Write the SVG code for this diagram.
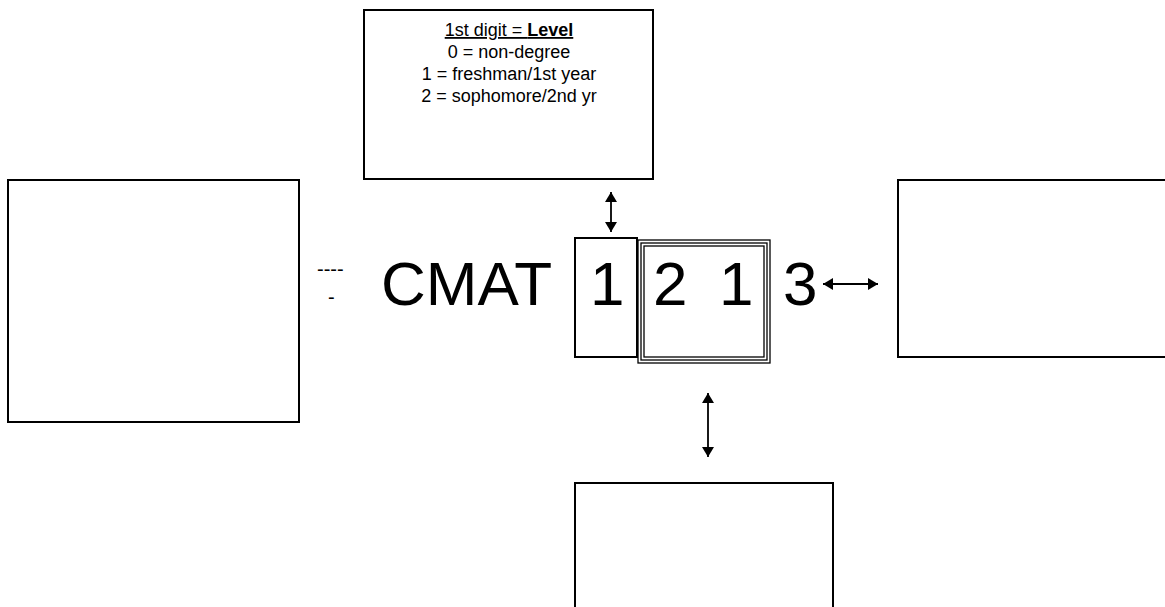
<svg xmlns="http://www.w3.org/2000/svg" width="1165" height="607" viewBox="0 0 1165 607">
  <style>
    .box { fill: #fff; stroke: #000; stroke-width: 2; }
    .tri { fill: none; stroke: #000; stroke-width: 1.3; }
    .t { font-family: "Liberation Sans", Arial, sans-serif; fill: #000; }
    .lbl { font-size: 18px; text-anchor: middle; }
    .big { font-size: 62px; }
    .conn { stroke: #000; stroke-width: 1.8; fill: none; }
  </style>
  <defs>
    <marker id="ah" viewBox="0 0 10 12" refX="10" refY="6" markerWidth="10" markerHeight="12" markerUnits="userSpaceOnUse" orient="auto-start-reverse">
      <path d="M0,0 L10,6 L0,12 Z" fill="#000"/>
    </marker>
  </defs>
  <rect width="1165" height="607" fill="#fff"/>

  <g id="level-box">
    <rect class="box" x="364" y="10" width="289" height="169"/>
    <text class="t lbl" x="509" y="36"><tspan text-decoration="underline">1st digit = <tspan font-weight="bold">Level</tspan></tspan></text>
    <text class="t lbl" x="509" y="58">0 = non-degree</text>
    <text class="t lbl" x="509" y="80">1 = freshman/1st year</text>
    <text class="t lbl" x="509" y="102">2 = sophomore/2nd yr</text>
  </g>

  <g id="left-box">
    <rect class="box" x="8" y="180" width="291" height="242"/>
  </g>

  <g id="right-box">
    <rect class="box" x="898" y="180" width="270" height="177"/>
  </g>

  <g id="bottom-box">
    <rect class="box" x="575" y="483" width="258" height="130"/>
  </g>

  <g id="dash-text">
    <text class="t" font-size="20" x="317" y="276">----</text>
    <text class="t" font-size="20" x="328" y="304">-</text>
  </g>

  <g id="course-code">
    <text class="t big" x="381" y="305">CMAT</text>
    <rect class="box" x="575" y="238" width="62" height="119"/>
    <rect class="tri" x="638" y="240" width="132" height="123"/>
    <rect class="tri" x="641" y="243" width="126" height="117"/>
    <rect class="tri" x="644" y="246" width="120" height="111"/>
    <text class="t big" x="590" y="305">1</text>
    <text class="t big" x="653" y="305">2</text>
    <text class="t big" x="719" y="305">1</text>
    <text class="t big" x="783" y="305">3</text>
  </g>

  <g id="connectors">
    <line class="conn" x1="611" y1="192" x2="611" y2="232" marker-start="url(#ah)" marker-end="url(#ah)"/>
    <line class="conn" x1="823" y1="284" x2="878" y2="284" marker-start="url(#ah)" marker-end="url(#ah)"/>
    <line class="conn" x1="708" y1="393" x2="708" y2="457" marker-start="url(#ah)" marker-end="url(#ah)"/>
  </g>
</svg>
